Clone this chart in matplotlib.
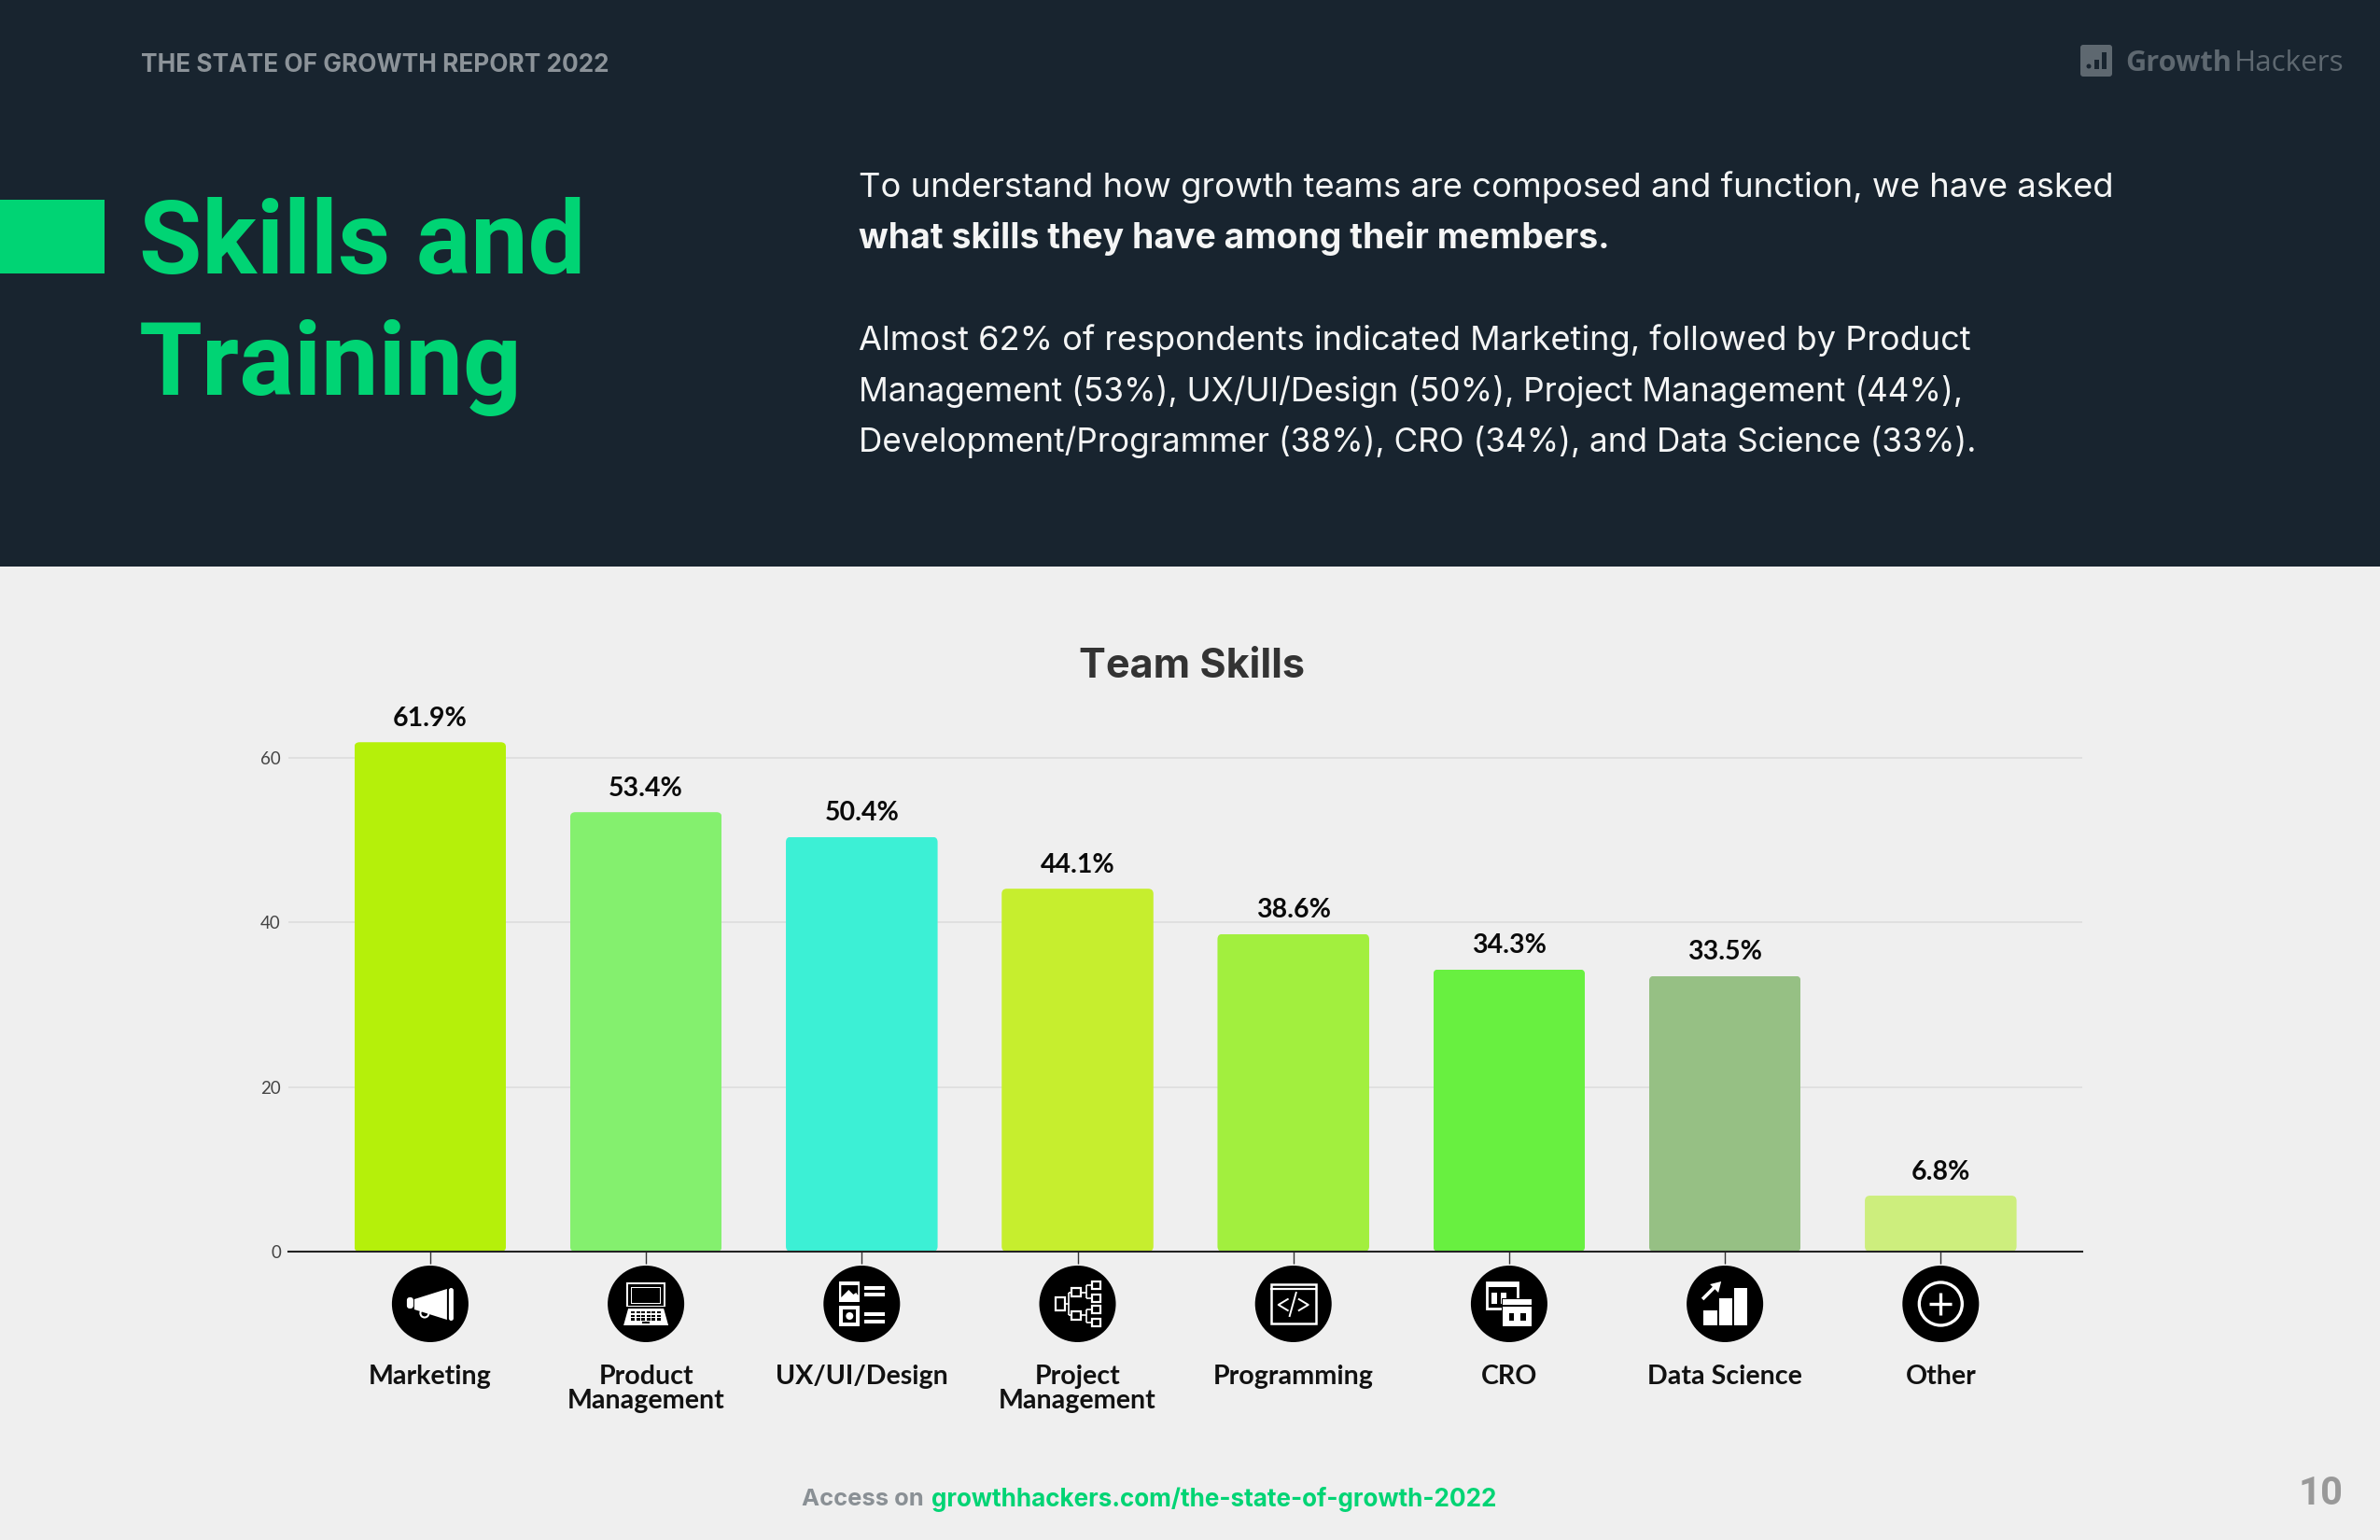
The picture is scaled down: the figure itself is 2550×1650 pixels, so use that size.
import matplotlib
matplotlib.use("Agg")
import matplotlib.pyplot as plt
from matplotlib.patches import Rectangle, Circle, Polygon, FancyBboxPatch

# ---- data ----
categories = ["Marketing", "Product\nManagement", "UX/UI/Design", "Project\nManagement",
              "Programming", "CRO", "Data Science", "Other"]
values = [61.9, 53.4, 50.4, 44.1, 38.6, 34.3, 33.5, 6.8]
bar_labels = ["61.9%", "53.4%", "50.4%", "44.1%", "38.6%", "34.3%", "33.5%", "6.8%"]
y_ticks = [0, 20, 40, 60]
bar_colors = ["#B5F00A", "#84F06E", "#3CF0D5", "#C6EE2E", "#A2EF3E", "#68F040", "#96C084", "#CDEE7D"]

DARK = "#18242F"
LIGHT = "#EFEFEF"
GREEN = "#00D474"
W, H = 2550, 1650
BODY_FONT = "Inter"

fig = plt.figure(figsize=(W / 100, H / 100), dpi=100, facecolor=LIGHT)
pg = fig.add_axes([0, 0, 1, 1])
pg.set_xlim(0, W)
pg.set_ylim(H, 0)
pg.axis("off")
renderer = fig.canvas.get_renderer()


def fit(x0, x1, yc, s, color, family=BODY_FONT, weight="normal", ha="left", start=20):
    t = pg.text(x0, yc, s, color=color, family=family, weight=weight, fontsize=start,
                va="center_baseline", ha="left")
    w = t.get_window_extent(renderer).width
    t.set_fontsize(start * (x1 - x0) / w)
    return t


# ---- page furniture ----
pg.add_patch(Rectangle((0, 0), W, 607, color=DARK, lw=0))
pg.add_patch(Rectangle((0, 214), 112, 79, color=GREEN, lw=0))
fit(151, 652, 67, "THE STATE OF GROWTH REPORT 2022", "#8C9399", weight="bold")
fit(149, 626, 252, "Skills and", GREEN, family="Roboto", weight="bold")
fit(149, 558, 383, "Training", GREEN, family="Roboto", weight="bold")
WHITE = "#F4F5F5"
fit(920, 2265, 197, "To understand how growth teams are composed and function, we have asked", WHITE)
fit(920, 1725, 252, "what skills they have among their members.", WHITE, weight="bold")
fit(920, 2112, 361, "Almost 62% of respondents indicated Marketing, followed by Product", WHITE)
fit(920, 2103, 416, "Management (53%), UX/UI/Design (50%), Project Management (44%),", WHITE)
fit(920, 2116, 470, "Development/Programmer (38%), CRO (34%), and Data Science (33%).", WHITE)
fit(1156, 1398, 710, "Team Skills", "#333333", weight="bold")
fit(859, 990, 1604, "Access on", "#8A9095", weight="bold")
fit(998, 1605, 1604, "growthhackers.com/the-state-of-growth-2022", GREEN, weight="bold")
fit(2463, 2511, 1596, "10", "#999999", family="Roboto", weight="bold")

# logo
LOGO = "#5E6870"
pg.add_patch(FancyBboxPatch((2231, 50), 30, 30, boxstyle="round,pad=2,rounding_size=3", color=LOGO, lw=0))
pg.add_patch(Circle((2238, 71), 2.5, color=DARK, lw=0))
pg.add_patch(Rectangle((2244, 64), 5, 10, color=DARK, lw=0))
pg.add_patch(Rectangle((2252, 56), 5, 18, color=DARK, lw=0))
fit(2277, 2391, 65, "Growth", LOGO, family="Open Sans", weight="bold")
fit(2394, 2511, 65, "Hackers", LOGO, family="Open Sans", weight="normal")

# ---- chart ----
ax = fig.add_axes([309 / W, (H - 1341) / H, (2231 - 309) / W, 570 / H])
ax.patch.set_alpha(0)
bars = ax.bar(categories, values, width=0.703, color=bar_colors, linewidth=0, zorder=2)
ax.set_xlim(-0.657, 7.656)
ax.set_ylim(0, 64.65)
aspect = (231.2 / 8.817)
for b in bars:
    clip = FancyBboxPatch((b.get_x(), 0), b.get_width(), b.get_height(),
                          boxstyle="round,pad=0,rounding_size=0.024", mutation_aspect=aspect,
                          transform=ax.transData)
    b.set_clip_path(clip)
for s in ["top", "right", "left"]:
    ax.spines[s].set_visible(False)
ax.spines["bottom"].set_linewidth(1.5)
ax.spines["bottom"].set_color("#222222")
ax.spines["bottom"].set_zorder(4)
ax.set_yticks(y_ticks)
ax.tick_params(axis="y", length=0, pad=5.8, labelsize=13.5, labelcolor="#444444")
for l in ax.get_yticklabels():
    l.set_family("Lato")
ax.grid(axis="y", color="#DEDEDE", linewidth=1.2, zorder=0)
ax.set_axisbelow(True)
ax.tick_params(axis="x", length=9.4, width=1, color="#333333", pad=77.5, labelsize=20.6, labelcolor="#111111")
for l in ax.get_xticklabels():
    l.set_family("Lato")
    l.set_weight("bold")
    l.set_linespacing(1.02)
for b, s in zip(bars, bar_labels):
    ax.annotate(s, (b.get_x() + b.get_width() / 2, b.get_height()), xytext=(0, 12.5),
                textcoords="offset points", ha="center", va="baseline",
                family="Lato", weight="bold", fontsize=20.5, color="#0A0A0A")


# ---- icons ----
def R(x0, y0, x1, y1, c="white", ec=None, lw=0):
    pg.add_patch(Rectangle((x0, y0), x1 - x0, y1 - y0, facecolor=c, edgecolor=ec or c, linewidth=lw))


def icon_megaphone(x, y):
    pg.add_patch(FancyBboxPatch((x - 24, y - 6), 5, 10, boxstyle="round,pad=1,rounding_size=3", color="white", lw=0))
    pg.add_patch(Polygon([(x - 17, y - 5), (x + 18, y - 16), (x + 18, y + 17), (x - 17, y + 6)], color="white", lw=0))
    pg.add_patch(FancyBboxPatch((x + 20, y - 17), 5, 35, boxstyle="round,pad=0,rounding_size=2.5",
                             mutation_aspect=1, color="white", lw=0))
    pg.add_patch(Circle((x - 6, y + 10), 4.5, facecolor="none", edgecolor="white", linewidth=1.5))


def icon_laptop(x, y):
    R(x - 21, y - 23, x + 21, y + 3)
    R(x - 19, y - 21, x + 19, y + 1.5, "black")
    R(x - 16, y - 18, x + 16, y + 0, "white")
    R(x - 15, y - 17, x + 15, y - 1, "black")
    pg.add_patch(Polygon([(x - 19, y + 5), (x + 19, y + 5), (x + 24, y + 23), (x - 24, y + 23)], color="white", lw=0))
    for row in range(3):
        for col in range(6):
            kx = x - 16 + col * 5.5
            ky = y + 8 + row * 3.6
            R(kx, ky, kx + 4, ky + 2.4, "black")
    R(x - 4, y + 18.5, x + 4, y + 21, "black")


def icon_ux(x, y):
    R(x - 24, y - 24, x - 2, y - 2)
    pg.add_patch(Polygon([(x - 22, y - 7), (x - 14, y - 15), (x - 9, y - 10), (x - 6, y - 12), (x - 4, y - 9), (x - 4, y - 20), (x - 22, y - 20)], color="black", lw=0))
    R(x - 24, y + 2, x - 2, y + 24)
    R(x - 20, y + 6, x - 6, y + 20, "black")
    pg.add_patch(Circle((x - 13, y + 13), 4, color="white", lw=0))
    for a, b in [(-19, -15), (-12, -8), (9, 13), (17, 21)]:
        R(x + 3, y + a, x + 25, y + b)


def icon_tree(x, y):
    def box(x0, y0, x1, y1):
        R(x0, y0, x1, y1, "black", "white", 1.6)
    lines = [((-14, 0), (-10, 0)), ((-10, -12), (-10, 12)), ((-10, -12), (-7, -12)), ((-10, 12), (-7, 12)),
             ((3, -12), (9, -12)), ((9, -20), (9, -6)), ((9, -20), (15, -20)), ((9, -6), (15, -6)),
             ((3, 12), (9, 12)), ((9, 6), (9, 20)), ((9, 6), (15, 6)), ((9, 20), (15, 20))]
    for (a, b), (c, d) in lines:
        pg.plot([x + a, x + c], [y + b, y + d], color="white", lw=1.2, solid_capstyle="butt")
    box(x - 24, y - 7, x - 14, y + 7)
    for a, b in [(-17, -8), (8, 17)]:
        box(x - 7, y + a, x + 3, y + b)
    for a, b in [(-24, -16), (-10, -2), (2, 10), (16, 24)]:
        box(x + 15, y + a, x + 24, y + b)


def icon_code(x, y):
    R(x - 24, y - 21, x + 24, y + 21, "black", "white", 1.8)
    pg.plot([x - 24, x + 24], [y - 16, y - 16], color="white", lw=1.6)
    pg.plot([x - 6, x - 16, x - 6], [y - 5, y + 1, y + 7], color="white", lw=1.4)
    pg.plot([x + 6, x + 16, x + 6], [y - 5, y + 1, y + 7], color="white", lw=1.4)
    pg.plot([x + 3, x - 4], [y - 12, y + 13], color="white", lw=1.4)


def icon_cro(x, y):
    R(x - 24, y - 23, x + 9, y + 5, "black", "white", 2)
    R(x - 24, y - 23, x + 9, y - 18)
    R(x - 19, y - 12, x - 13, y + 0)
    R(x - 9, y - 12, x - 3, y + 0)
    R(x - 8, y - 6, x + 25, y + 25, "black")
    R(x - 7, y - 5, x + 24, y + 24)
    R(x - 7, y + 1, x + 24, y + 3, "black")
    R(x + 0, y + 10, x + 5, y + 18, "black")
    R(x + 12, y + 10, x + 18, y + 18, "black")


def icon_data(x, y):
    R(x - 23, y + 7, x - 8, y + 23)
    R(x - 6, y - 6, x + 8, y + 23)
    R(x + 10, y - 17, x + 24, y + 23)
    pg.plot([x - 24, x - 11], [y - 5, y - 18], color="white", lw=2.6, solid_capstyle="butt")
    pg.add_patch(Polygon([(x - 4, y - 24), (x - 16, y - 21), (x - 7, y - 12)], color="white", lw=0))


def icon_other(x, y):
    pg.add_patch(Circle((x, y), 23, facecolor="none", edgecolor="white", linewidth=2.4))
    pg.plot([x - 12, x + 12], [y, y], color="white", lw=2.4, solid_capstyle="butt")
    pg.plot([x, x], [y - 12, y + 12], color="white", lw=2.4, solid_capstyle="butt")


icons = [icon_megaphone, icon_laptop, icon_ux, icon_tree, icon_code, icon_cro, icon_data, icon_other]
for i, draw in enumerate(icons):
    cx = ax.transData.transform((i, 0))[0]
    pg.add_patch(Circle((cx, 1397), 41, color="black", lw=0))
    draw(cx, 1397)
pg.set_xlim(0, W)
pg.set_ylim(H, 0)

fig.savefig("out.png", dpi=100, facecolor=LIGHT)
